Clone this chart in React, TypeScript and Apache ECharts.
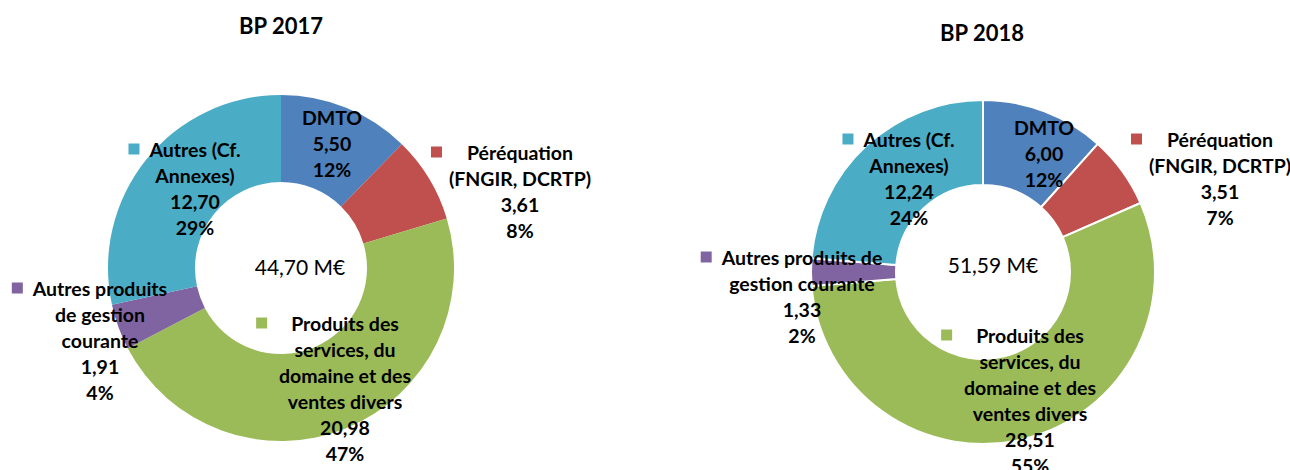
import React, { useEffect, useRef } from "react";
import * as echarts from "echarts";

const categories = [
  "DMTO",
  "Péréquation (FNGIR, DCRTP)",
  "Produits des services, du domaine et des ventes divers",
  "Autres produits de gestion courante",
  "Autres (Cf. Annexes)",
];
const values2017 = [5.5, 3.61, 20.98, 1.91, 12.7];
const values2018 = [6.0, 3.51, 28.51, 1.33, 12.24];

const labelLines2017 = [
  ["DMTO"],
  ["Péréquation", "(FNGIR, DCRTP)"],
  ["Produits des", "services, du", "domaine et des", "ventes divers"],
  ["Autres produits", "de gestion", "courante"],
  ["Autres (Cf.", "Annexes)"],
];
const labelLines2018 = [
  ["DMTO"],
  ["Péréquation", "(FNGIR, DCRTP)"],
  ["Produits des", "services, du", "domaine et des", "ventes divers"],
  ["Autres produits de", "gestion courante"],
  ["Autres (Cf.", "Annexes)"],
];
const titles = ["BP 2017", "BP 2018"];

const colors = ["#4F81BD", "#C0504D", "#9BBB59", "#8064A2", "#4BACC6"];
const showMarker = [false, true, true, true, true];
const markerGap = [0, 25, 24, 10, 10];

// label block centres (layout)
const labelPos2017 = [
  [332, 143],
  [520, 191],
  [345, 388],
  [100, 340],
  [195, 188],
];
const labelPos2018 = [
  [1044, 153],
  [1220, 178],
  [1030, 400],
  [802, 296],
  [909, 178],
];

const FONT = "Lato";
const fmt = (v: number) => v.toFixed(2).replace(".", ",");

function buildSeries(
  values: number[],
  lines: string[][],
  pos: number[][],
  center: number[],
  radius: number[],
  border: number
) {
  return {
    type: "pie",
    center,
    radius,
    startAngle: 90,
    clockwise: true,
    percentPrecision: 0,
    avoidLabelOverlap: false,
    silent: true,
    itemStyle: { borderColor: "#fff", borderWidth: border },
    labelLine: { show: false },
    labelLayout: (p: any) => ({
      x: pos[p.dataIndex][0],
      y: pos[p.dataIndex][1],
      align: "center",
      verticalAlign: "middle",
    }),
    data: values.map((v, i) => ({
      name: categories[i],
      value: v,
      itemStyle: { color: colors[i] },
      label: {
        show: true,
        position: "outside",
        align: "center",
        formatter: (p: any) => {
          const ls = lines[i];
          const first = showMarker[i]
            ? `{m|}{g|}{t|${ls[0]}}{s|}`
            : `{t|${ls[0]}}`;
          const rest = ls.slice(1).map((l) => `{t|${l}}`);
          return [first, ...rest, `{t|${fmt(p.value)}}`, `{t|${p.percent}%}`].join("\n");
        },
        rich: {
          t: {
            fontFamily: FONT,
            fontWeight: "bold",
            fontSize: 19.5,
            lineHeight: 26,
            color: "#000",
          },
          m: {
            width: 11,
            height: 11,
            lineHeight: 26,
            backgroundColor: colors[i],
          },
          g: { width: markerGap[i], lineHeight: 26 },
          s: { width: 11 + markerGap[i], lineHeight: 26 },
        },
      },
    })),
  };
}

export default function App() {
  const ref = useRef<HTMLDivElement>(null);
  useEffect(() => {
    document.body.style.margin = "0";
    const chart = echarts.init(ref.current!, undefined, { renderer: "svg" });
    const total2017 = values2017.reduce((a, b) => a + b, 0);
    const total2018 = values2018.reduce((a, b) => a + b, 0);
    chart.setOption({
      animation: false,
      backgroundColor: "#fff",
      graphic: [
        {
          type: "text",
          x: 281,
          y: 25,
          style: {
            text: titles[0],
            fontFamily: FONT,
            fontWeight: "bold",
            fontSize: 22,
            fill: "#000",
            align: "center",
            verticalAlign: "middle",
          },
        },
        {
          type: "text",
          x: 982,
          y: 32,
          style: {
            text: titles[1],
            fontFamily: FONT,
            fontWeight: "bold",
            fontSize: 22,
            fill: "#000",
            align: "center",
            verticalAlign: "middle",
          },
        },
        {
          type: "text",
          x: 300,
          y: 266,
          z: 10,
          style: {
            text: `${fmt(total2017)} M€`,
            fontFamily: FONT,
            fontSize: 21,
            fill: "#000",
            align: "center",
            verticalAlign: "middle",
          },
        },
        {
          type: "text",
          x: 993,
          y: 264,
          z: 10,
          style: {
            text: `${fmt(total2018)} M€`,
            fontFamily: FONT,
            fontSize: 21,
            fill: "#000",
            align: "center",
            verticalAlign: "middle",
          },
        },
      ],
      series: [
        buildSeries(values2017, labelLines2017, labelPos2017, [281, 268], [86, 173], 0),
        buildSeries(values2018, labelLines2018, labelPos2018, [983, 272], [87, 172], 2),
      ],
    });
    return () => chart.dispose();
  }, []);
  return <div ref={ref} style={{ width: 1290, height: 470 }} />;
}
